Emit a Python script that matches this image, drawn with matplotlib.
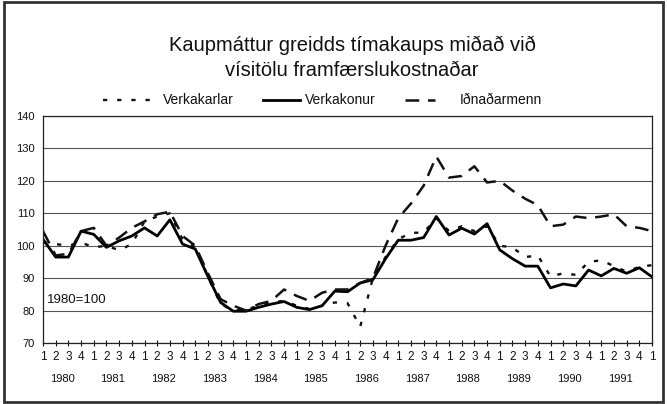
import matplotlib
matplotlib.use("Agg")
import matplotlib.pyplot as plt
from matplotlib.lines import Line2D
from matplotlib.patches import Rectangle
import numpy as np

plt.rcParams['font.family'] = ['Liberation Sans', 'DejaVu Sans']

years = [str(y) for y in range(1980, 1992)]
quarter_labels = ['1', '2', '3', '4'] * 12 + ['1']

verkakarlar = [101, 100.5, 100, 101,
               99.5, 100, 98.6, 100.5,
               107.5, 109, 110, 102,
               99.5, 90.5, 82, 80,
               80.3, 81.5, 82.5, 83,
               81.5, 80.5, 81.5, 82.5,
               82.3, 75, 90, 96.5,
               102, 104, 104, 108.5,
               104.5, 106, 104.5, 106,
               100, 99.5, 96.5, 97,
               90.5, 91.5, 91, 95,
               95.5, 93.7, 92, 93.5,
               94]

verkakonur = [102, 96.5, 96.5, 104.5,
              103.5, 99.5, 101.5, 103,
              105.5, 103, 108, 100.5,
              99, 90.5, 82.5, 79.8,
              79.8, 81, 82, 82.8,
              81, 80.3, 81.5, 86,
              85.8, 88.5, 89.5, 96,
              101.7, 101.7, 102.5, 109,
              103.3, 105.4, 103.6, 106.8,
              98.7, 96, 93.7, 93.7,
              87, 88.2, 87.6, 92.5,
              90.7, 93, 91.5, 93.2,
              90.4]

idnadarmenn = [104.5, 97, 97.5, 104.5,
               105.5, 100, 102.5, 105.5,
               107.5, 109.7, 110.5, 103,
               100, 91.5, 83.5, 81.5,
               80, 82, 83, 86.5,
               84.5, 83, 85.5, 86.5,
               86.5, 88.5, 90, 100,
               108.5, 113, 118.5, 127.5,
               121, 121.5, 124.5, 119.5,
               120, 117, 114.5, 112.5,
               106, 106.5, 109, 108.5,
               109, 109.7, 106, 105.5,
               104.5]

series_names = ['Verkakarlar', 'Verkakonur', 'Iðnaðarmenn']

W, H = 667, 404
fig = plt.figure(figsize=(W / 100, H / 100), dpi=100)
fig.patch.set_facecolor('white')

left, right = 43 / W, 652 / W
bottom, top = 1 - 343 / H, 1 - 116 / H
ax = fig.add_axes([left, bottom, right - left, top - bottom])

x = np.arange(len(verkakonur))
styles = [
    dict(color='#111111', lw=1.7, dashes=(1.8, 4.2)),
    dict(color='#000000', lw=2.0, linestyle='-'),
    dict(color='#111111', lw=1.8, dashes=(5.5, 3.5)),
]
for vals, st in zip([verkakarlar, verkakonur, idnadarmenn], styles):
    ax.plot(x, vals, **st)

ax.set_xlim(0, len(x) - 1)
ax.set_ylim(70, 140)
ax.set_yticks(np.arange(70, 141, 10))
ax.yaxis.grid(True, color='#555555', lw=0.8)
ax.set_axisbelow(True)
ax.tick_params(axis='y', length=0, labelsize=8, pad=6, colors='#111111')
ax.set_xticks(x)
ax.set_xticklabels(quarter_labels)
ax.tick_params(axis='x', direction='inout', length=4, width=0.8, labelsize=8.5,
               pad=4, colors='#111111')
for sp in ax.spines.values():
    sp.set_color('#222222')
    sp.set_linewidth(0.9)

for i, yr in enumerate(years):
    ax.annotate(yr, xy=(4 * i + 1.5, 0), xycoords=('data', 'axes fraction'),
                xytext=(0, -26), textcoords='offset points', ha='center', va='center',
                fontsize=8, color='#111111')

ax.text(0.007, 0.19, '1980=100', transform=ax.transAxes, fontsize=9.5,
        ha='left', va='center', color='#111111')

fig.text(0.528, 1 - 45 / H, 'Kaupmáttur greidds tímakaups miðað við',
         ha='center', va='center', fontsize=14.5, color='#111111')
fig.text(0.528, 1 - 71 / H, 'vísitölu framfærslukostnaðar',
         ha='center', va='center', fontsize=14.5, color='#111111')

# legend
ly = 1 - 100 / H
leg = [(103, 155, 163), (263, 300, 305), (405, 435, 460)]
for (x0, x1, tx), st, name in zip(leg, styles, series_names):
    fig.add_artist(Line2D([x0 / W, x1 / W], [ly, ly], transform=fig.transFigure, **st))
    fig.text(tx / W, ly, name, ha='left', va='center', fontsize=10, color='#111111')

# outer scanned frame
fig.add_artist(Rectangle((0.006, 0.006), 0.988, 0.988, transform=fig.transFigure,
                         fill=False, edgecolor='#333333', lw=2))

fig.savefig('out.png', dpi=100)
